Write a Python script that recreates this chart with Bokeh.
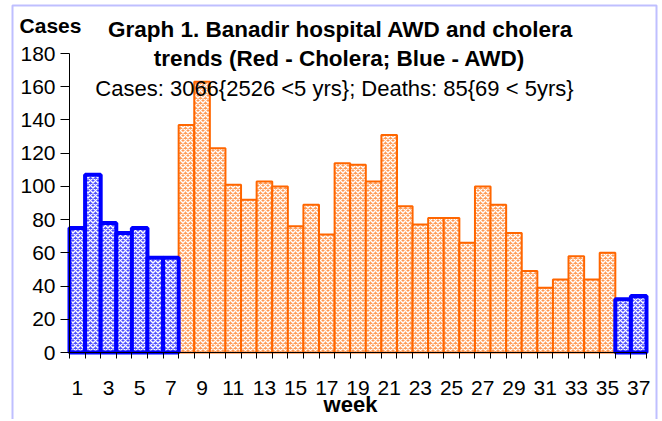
from bokeh.plotting import figure
from bokeh.models import FixedTicker, Label, ColumnDataSource, Range1d, BoxAnnotation
from bokeh.embed import file_html
from bokeh.resources import INLINE

# ---- data ----
weeks = list(range(1, 38))
cases = [75, 107, 78, 72, 75, 57, 57, 137, 163, 123, 101, 92, 103, 100, 76, 89, 71,
         114, 113, 103, 131, 88, 77, 81, 81, 66, 100, 89, 72, 49, 39, 44, 58, 44, 60,
         32, 34]
disease = ["AWD"] * 7 + ["Cholera"] * 28 + ["AWD"] * 2
x_tick_values = list(range(1, 38, 2))
x_boundaries = [w - 0.5 for w in weeks] + [weeks[-1] + 0.5]
y_tick_values = list(range(0, 181, 20))
y_max = 180

title_1 = "Graph 1. Banadir hospital AWD and cholera"
title_2 = "trends (Red - Cholera; Blue - AWD)"
subtitle = "Cases: 3066{2526 <5 yrs}; Deaths:  85{69 < 5yrs}"
y_title = "Cases"
x_title = "week"

FONT = "Liberation Sans"

# ---- layout (pixels) ----
W, H = 660, 419
AX_LEFT, AX_RIGHT, AX_TOP, AX_BOTTOM = 69, 646, 53, 352
sx = (AX_RIGHT - AX_LEFT) / len(weeks)      # px per week
sy = (AX_BOTTOM - AX_TOP) / y_max           # px per case

def dx(px):
    return 0.5 + (px - AX_LEFT) / sx

def dy(py):
    return (AX_BOTTOM - py) / sy

awd = ColumnDataSource(dict(
    x=[w for w, d in zip(weeks, disease) if d == "AWD"],
    top=[c for c, d in zip(cases, disease) if d == "AWD"]))
chol = ColumnDataSource(dict(
    x=[w for w, d in zip(weeks, disease) if d == "Cholera"],
    top=[c for c, d in zip(cases, disease) if d == "Cholera"]))

p = figure(width=W, height=H, output_backend="svg", toolbar_location=None,
           x_range=Range1d(dx(0), dx(W)), y_range=Range1d(dy(H), dy(0)),
           min_border=0)
p.outline_line_color = None
p.grid.visible = False
p.background_fill_color = "white"
p.border_fill_color = "white"

p.vbar(x="x", top="top", width=1.0, source=chol,
       fill_color="#FF9A55", line_color="#FF6600", line_width=2,
       hatch_pattern="diagonal_cross", hatch_color="white",
       hatch_scale=5, hatch_weight=1.4)
p.vbar(x="x", top="top", width=1.0, source=awd,
       fill_color="#5050FF", line_color="#0000FF", line_width=4,
       hatch_pattern="diagonal_cross", hatch_color="white",
       hatch_scale=5, hatch_weight=1.4)

# axes drawn at fixed data locations
p.yaxis.fixed_location = 0.5
p.yaxis.bounds = (0, y_max)
p.yaxis.ticker = FixedTicker(ticks=y_tick_values)
p.yaxis.major_tick_out = 9
p.yaxis.major_tick_in = 0
p.yaxis.minor_tick_line_color = None
p.yaxis.major_label_text_font = FONT
p.yaxis.major_label_text_font_size = "21px"
p.yaxis.major_label_text_color = "black"
p.yaxis.major_label_standoff = 5
p.yaxis.axis_line_color = "black"

p.xaxis.fixed_location = 0
p.xaxis.bounds = (0.5, len(weeks) + 0.5)
p.xaxis.ticker = FixedTicker(ticks=x_tick_values, minor_ticks=x_boundaries)
p.xaxis.major_tick_line_color = None
p.xaxis.major_tick_out = 0
p.xaxis.major_tick_in = 0
p.xaxis.minor_tick_out = 6
p.xaxis.minor_tick_in = 0
p.xaxis.minor_tick_line_color = "black"
p.xaxis.major_label_text_font = FONT
p.xaxis.major_label_text_font_size = "21px"
p.xaxis.major_label_text_color = "black"
p.xaxis.major_label_standoff = 22
p.xaxis.axis_line_color = "black"

def add_label(px, py, text, size, bold):
    p.add_layout(Label(x=dx(px), y=dy(py), text=text, text_font=FONT,
                       text_font_size=size,
                       text_font_style="bold" if bold else "normal",
                       text_color="black", text_align="center",
                       text_baseline="middle", level="overlay"))

add_label(340, 29, title_1, "22.5px", True)
add_label(339, 58, title_2, "22.5px", True)
add_label(337, 88, subtitle, "22px", False)
add_label(50, 25, y_title, "21px", True)
add_label(350, 404, x_title, "22px", True)

# chart border
p.add_layout(BoxAnnotation(left=dx(12), right=dx(656), top=dy(5), bottom=dy(H + 10),
                           fill_color=None, line_color="#2a2aff", line_width=2,
                           level="overlay"))

open("out.html", "w").write(file_html(p, INLINE))
